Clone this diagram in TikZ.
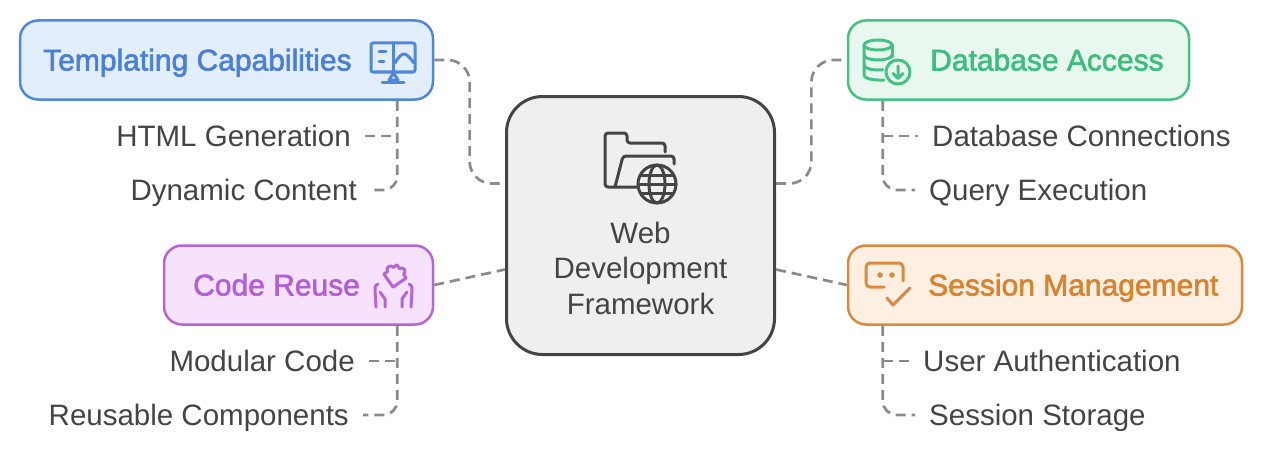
\documentclass[tikz,border=0pt]{standalone}
\usepackage{fontspec}
\setmainfont{Liberation Sans}
\newfontfamily\headfont[FakeBold=2]{Liberation Sans}
\usetikzlibrary{positioning,calc}
\definecolor{ink}{HTML}{444444}
\definecolor{webfill}{HTML}{EFEFEF}
\definecolor{linkgray}{HTML}{8A8A8A}
\definecolor{blueline}{HTML}{4F87DB}
\definecolor{bluefill}{HTML}{E3EEFD}
\definecolor{bluetext}{HTML}{4A7FD8}
\definecolor{greenline}{HTML}{43C283}
\definecolor{greenfill}{HTML}{E8F8EF}
\definecolor{greentext}{HTML}{3DBE7E}
\definecolor{purpleline}{HTML}{B565D8}
\definecolor{purplefill}{HTML}{F6E2FC}
\definecolor{purpletext}{HTML}{B35FD5}
\definecolor{orangeline}{HTML}{DB8A3D}
\definecolor{orangefill}{HTML}{FDEFE2}
\definecolor{orangetext}{HTML}{D9832F}
\begin{document}
\begin{tikzpicture}[x=1pt,y=-1pt,
box/.style={draw,line width=2.5pt,rounded corners=18pt,inner sep=0pt,minimum height=79pt},
head/.style={font=\headfont\fontsize{30}{36}\selectfont,inner sep=0pt,text height=21pt,text depth=0pt},
item/.style={font=\fontsize{29.5}{35.5}\selectfont,text=ink,inner xsep=14pt,inner ysep=0pt,text height=21pt,text depth=0pt},
link/.style={draw=linkgray,line width=2.7pt,dash pattern=on 10pt off 6pt,rounded corners=14pt},
icon/.style={line width=3pt,line cap=round,line join=round}]
\useasboundingbox (0,0) rectangle (1263,452);

% central box
\node[box,draw=ink,fill=webfill,line width=3pt,rounded corners=36pt,
  minimum width=268pt,minimum height=258pt] (web) at (640.5,225.5) {};
\node[font=\fontsize{29.5}{35.5}\selectfont,text=ink,align=center,inner sep=0pt]
  (webl) at (640.5,268) {Web\\Development\\Framework};
\begin{scope}[icon,draw=ink]
\draw[rounded corners=3pt] (638,187) -- (605,187) -- (605,133) -- (627,133)
  -- (627,143) -- (665,143) -- (665,152);
\draw[rounded corners=3pt] (615,187) -- (623,156) -- (674,156) -- (674,164);
\draw[fill=webfill] (657,184) circle[radius=19pt];
\draw (657,184) ellipse[x radius=8pt,y radius=19pt];
\draw (638,184) -- (676,184) (641,175) -- (673,175) (641,193) -- (673,193);
\end{scope}

% four topics
\node[box,draw=blueline,fill=bluefill,minimum width=413pt] (tc) at (226.5,60) {};
\node[head,text=bluetext,anchor=west] (tcl) at (43,60) {Templating Capabilities};
\node[box,draw=greenline,fill=greenfill,minimum width=341pt] (db) at (1018.5,60) {};
\node[head,text=greentext,anchor=west] (dbl) at (930,60) {Database Access};
\node[box,draw=purpleline,fill=purplefill,minimum width=269pt] (cr) at (298.5,285) {};
\node[head,text=purpletext,anchor=west] (crl) at (193,285) {Code Reuse};
\node[box,draw=orangeline,fill=orangefill,minimum width=394pt] (sm) at (1045,285) {};
\node[head,text=orangetext,anchor=west] (sml) at (928,285) {Session Management};

% icons
\begin{scope}[icon,draw=blueline]
\draw[rounded corners=2pt] (371,43) rectangle (415,72);
\draw (393.5,43) -- (393.5,72);
\draw (379,52) -- (386,52) (379,62) -- (384,62);
\draw (395,63) .. controls (399,56) and (402,54) .. (404,54) .. controls (407,54) and (410,58) .. (414,63);
\draw (393.5,73) -- (389,80) -- (398,80) -- cycle;
\draw (382,82) -- (404,82);
\end{scope}
\begin{scope}[icon,draw=greenline]
\draw (878,45) ellipse[x radius=14pt,y radius=5pt];
\draw (864,45) -- (864,75) arc[start angle=180,end angle=270,x radius=14pt,y radius=5pt] -- (884,80);
\draw (892,45) -- (892,57);
\draw (864,55) arc[start angle=180,end angle=360,x radius=14pt,y radius=5pt];
\draw (864,65) arc[start angle=180,end angle=290,x radius=14pt,y radius=5pt];
\draw[fill=greenfill] (898,72) circle[radius=12pt];
\draw (898,66) -- (898,78) (893,73.5) -- (898,78.5) -- (903,73.5);
\end{scope}
\begin{scope}[icon,draw=purpleline]
\draw[rotate around={35:(395,276)}] (387,268) -- (391.5,268)
  arc[start angle=180,end angle=0,radius=3.5pt] -- (403,268) -- (403,272.5)
  arc[start angle=90,end angle=-90,radius=3.5pt] -- (403,284) -- (387,284) -- cycle;
\draw (376,307) -- (375,290) .. controls (375,286) and (376,284) .. (378,284);
\draw (385,307) -- (385,299) -- (380,292);
\draw (411,307) -- (412,290) .. controls (412,286) and (411,284) .. (409,284);
\draw (402,307) -- (402,299) -- (407,292);
\end{scope}
\begin{scope}[icon,draw=orangeline]
\draw[rounded corners=4pt] (884,287) -- (866,287) -- (866,263) -- (903,263) -- (903,281);
\fill[orangeline] (880,275) circle[radius=2.8pt] (892,275) circle[radius=2.8pt];
\draw (887,298) -- (893,305) -- (910,288);
\end{scope}

% sub items
\node[item,anchor=east] (html) at (365,136) {HTML Generation};
\node[item,anchor=east] (dyn) at (371,190) {Dynamic Content};
\node[item,anchor=west] (dbc) at (918,136) {Database Connections};
\node[item,anchor=west] (qex) at (915,190) {Query Execution};
\node[item,anchor=east] (mod) at (369,361) {Modular Code};
\node[item,anchor=east] (reu) at (363,415) {Reusable Components};
\node[item,anchor=west] (uau) at (909,361) {User Authentication};
\node[item,anchor=west] (sst) at (915,415) {Session Storage};

% links to the centre
\coordinate (wl1) at ([yshift=42pt]web.west);
\coordinate (wl2) at ([yshift=-44pt]web.west);
\coordinate (wr1) at ([yshift=42pt]web.east);
\coordinate (wr2) at ([yshift=-44pt]web.east);
\draw[link,rounded corners=22pt] (tc.east) -| ($(tc.east)!.5!(wl1)$) |- (wl1);
\draw[link,rounded corners=22pt] (wr1) -| ($(wr1)!.5!(db.west)$) |- (db.west);
\draw[link] (cr.east) -- (wl2);
\draw[link] (wr2) -- (sm.west);

% trees
\coordinate (tct) at ([xshift=-37pt]tc.south east);
\coordinate (dbt) at ([xshift=36pt]db.south west);
\coordinate (crt) at ([xshift=-37pt]cr.south east);
\coordinate (smt) at ([xshift=36pt]sm.south west);
\draw[link] (tct) |- (dyn.east);
\draw[link] (html.east) -- (html.east -| tct);
\draw[link] (dbt) |- (qex.west);
\draw[link] (dbc.west -| dbt) -- (dbc.west);
\draw[link] (crt) |- (reu.east);
\draw[link] (mod.east) -- (mod.east -| crt);
\draw[link] (smt) |- (sst.west);
\draw[link] (uau.west -| smt) -- (uau.west);
\end{tikzpicture}
\end{document}
